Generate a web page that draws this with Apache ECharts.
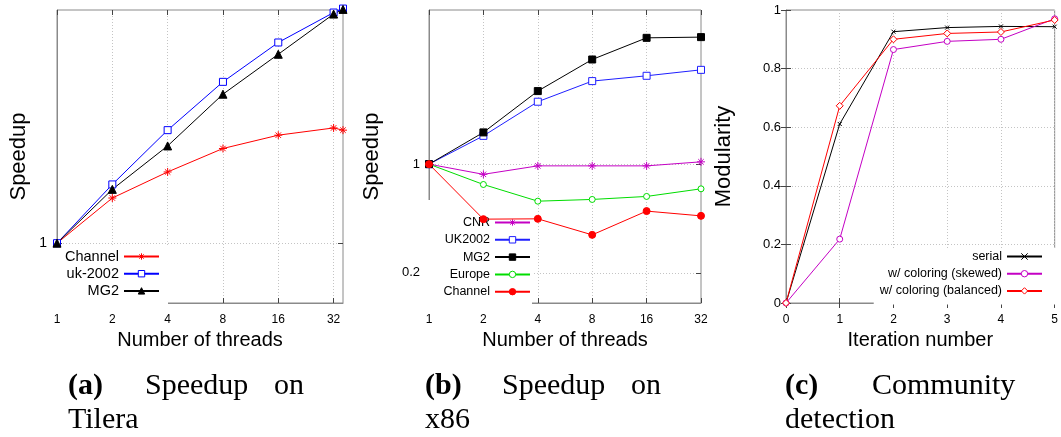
<!DOCTYPE html>
<html>
<head>
<meta charset="utf-8">
<script src="https://cdn.jsdelivr.net/npm/echarts@6/dist/echarts.min.js"></script>
<style>
  html, body { margin: 0; padding: 0; background: #fff; }
  #chart { width: 1061px; height: 437px; }
</style>
</head>
<body>
<div id="chart"></div>
<script>
// (a) speedup on Tilera
const threadsTilera = [1, 2, 4, 8, 16, 32, 36];
const tileraChannel = [1, 1.96, 2.89, 4.10, 5.00, 5.57, 5.39];
const tileraUk2002  = [1, 2.40, 5.39, 11.07, 19.9, 31.1, 33.0];
const tileraMG2     = [1, 2.23, 4.26, 9.21, 16.7, 30.4, 32.6];

// (b) speedup on x86
const threadsX86 = [1, 2, 4, 8, 16, 32];
const x86CNR     = [1, 0.86, 0.975, 0.975, 0.975, 1.035];
const x86UK2002  = [1, 1.52, 2.52, 3.42, 3.70, 4.04];
const x86MG2     = [1, 1.60, 2.95, 4.71, 6.49, 6.56];
const x86Europe  = [1, 0.74, 0.578, 0.593, 0.62, 0.694];
const x86Channel = [1, 0.443, 0.445, 0.351, 0.499, 0.465];

// (c) community detection
const iterations  = [0, 1, 2, 3, 4, 5];
const modSerial   = [0, 0.611, 0.926, 0.940, 0.944, 0.943];
const modSkewed   = [0, 0.218, 0.865, 0.893, 0.900, 0.970];
const modBalanced = [0, 0.673, 0.900, 0.920, 0.925, 0.966];

// tick labels
const threadTicks = [1, 2, 4, 8, 16, 32];
const speedupTicksTilera = [1];
const speedupTicksX86 = [0.2, 1];

const SANS = '"Liberation Sans", Arial, sans-serif';
const SERIF = '"Liberation Serif", "Times New Roman", serif';
const FRAME = '#8a8a8a';
const GRID = '#c4c4c4';
const TICK = '#444';

const ASTERISK = 'path://M5 0V10M0 5H10M1.6 1.6L8.4 8.4M8.4 1.6L1.6 8.4';
const CROSS = 'path://M0 0L10 10M10 0L0 10';

const pairs = (xs, ys) => xs.map((x, i) => [x, ys[i]]);

function tickCfg(custom) {
  const t = { show: true, inside: true, length: 5, lineStyle: { color: TICK } };
  if (custom) t.customValues = custom;
  return t;
}

function xAxisCfg(grid, extra) {
  return Object.assign({
    gridIndex: grid,
    axisLine: { show: true, lineStyle: { color: FRAME, width: 1 } },
    axisTick: tickCfg(),
    axisLabel: { color: '#000', fontSize: 12, fontFamily: SANS, margin: 11 },
    splitLine: { show: true, lineStyle: { color: GRID, type: [1, 2], width: 1 } },
    nameLocation: 'middle',
    nameGap: 24,
    nameTextStyle: { color: '#000', fontSize: 20, fontFamily: SANS }
  }, extra);
}
function yAxisCfg(grid, extra) {
  return Object.assign({
    gridIndex: grid,
    axisLine: { show: true, lineStyle: { color: FRAME, width: 1 } },
    axisTick: tickCfg(),
    axisLabel: { color: '#000', fontSize: 13, fontFamily: SANS, margin: 9 },
    splitLine: { show: true, lineStyle: { color: GRID, type: [1, 2], width: 1 } },
    nameLocation: 'middle',
    nameRotate: 90,
    nameTextStyle: { color: '#000', fontSize: 22, fontFamily: SANS }
  }, extra);
}
// mirrored tick marks on the top and right borders
function mirrorAxis(grid, position, scale, custom) {
  return Object.assign({
    gridIndex: grid,
    position: position,
    axisLine: { show: false },
    axisTick: tickCfg(custom),
    axisLabel: { show: false },
    splitLine: { show: false }
  }, scale);
}

function lineSeries(id, grid, data, color, symbol, size, hollow) {
  return {
    id: id,
    name: id,
    type: 'line',
    xAxisIndex: grid,
    yAxisIndex: grid,
    data: data,
    clip: false,
    symbol: symbol,
    symbolSize: size,
    showAllSymbol: true,
    z: 3,
    lineStyle: { color: color, width: 1 },
    itemStyle: { color: hollow ? '#fff' : color, borderColor: color, borderWidth: 1 },
    emphasis: { disabled: true }
  };
}

const labelOf = {
  'a-channel': 'Channel', 'a-uk': 'uk-2002', 'a-mg2': 'MG2',
  'b-cnr': 'CNR', 'b-uk': 'UK2002', 'b-mg2': 'MG2', 'b-europe': 'Europe', 'b-channel': 'Channel',
  'c-serial': 'serial', 'c-skewed': 'w/ coloring (skewed)', 'c-balanced': 'w/ coloring (balanced)'
};

function legendCfg(ids, box, fontSize, gap) {
  return Object.assign({
    data: ids,
    orient: 'vertical',
    align: 'right',
    itemWidth: 35,
    itemHeight: 8,
    itemGap: gap,
    selectedMode: false,
    backgroundColor: '#fff',
    z: 1,
    formatter: (n) => labelOf[n],
    textStyle: { color: '#000', fontSize: fontSize, fontFamily: SANS },
    itemStyle: { borderWidth: 1 }
  }, box);
}

const scaleA = { type: 'log', logBase: 2, min: 1, max: 36 };
const scaleB = { type: 'log', logBase: 2, min: 1, max: 32 };
const scaleC = { type: 'value', min: 0, max: 5, interval: 1 };
const scaleAy = { type: 'log', logBase: 10, min: 0.41, max: 32.3 };
const scaleBy = { type: 'log', logBase: 10, min: 0.128, max: 9.8 };
const scaleCy = { type: 'value', min: 0, max: 1, interval: 0.2 };

const option = {
  animation: false,
  backgroundColor: '#fff',
  grid: [
    { left: 57, top: 10, width: 286, height: 293, show: true, borderColor: FRAME, borderWidth: 1, backgroundColor: 'transparent' },
    { left: 429, top: 10, width: 272, height: 293, show: true, borderColor: FRAME, borderWidth: 1, backgroundColor: 'transparent' },
    { left: 786, top: 10, width: 272, height: 293, show: true, borderColor: FRAME, borderWidth: 1, backgroundColor: 'transparent' }
  ],
  xAxis: [
    xAxisCfg(0, Object.assign({}, scaleA, {
      name: 'Number of threads',
      axisTick: tickCfg(threadTicks),
      axisLabel: { color: '#000', fontSize: 12, fontFamily: SANS, margin: 11, customValues: threadTicks, formatter: (v) => String(v) }
    })),
    xAxisCfg(1, Object.assign({}, scaleB, {
      name: 'Number of threads',
      axisTick: tickCfg(threadTicks),
      axisLabel: { color: '#000', fontSize: 12, fontFamily: SANS, margin: 11, customValues: threadTicks, formatter: (v) => String(v) }
    })),
    xAxisCfg(2, Object.assign({}, scaleC, { name: 'Iteration number' })),
    mirrorAxis(0, 'top', scaleA, threadTicks),
    mirrorAxis(1, 'top', scaleB, threadTicks),
    mirrorAxis(2, 'top', scaleC)
  ],
  yAxis: [
    yAxisCfg(0, Object.assign({}, scaleAy, {
      name: 'Speedup', nameGap: 27,
      axisTick: tickCfg(speedupTicksTilera),
      axisLabel: { color: '#000', fontSize: 14, fontFamily: SANS, margin: 10, customValues: speedupTicksTilera, formatter: (v) => String(v) }
    })),
    yAxisCfg(1, Object.assign({}, scaleBy, {
      name: 'Speedup', nameGap: 46,
      axisTick: tickCfg(speedupTicksX86),
      axisLabel: { color: '#000', fontSize: 13, fontFamily: SANS, margin: 9, customValues: speedupTicksX86, formatter: (v) => String(v) }
    })),
    yAxisCfg(2, Object.assign({}, scaleCy, {
      name: 'Modularity', nameGap: 51,
      axisLabel: { color: '#000', fontSize: 13, fontFamily: SANS, margin: 5 }
    })),
    mirrorAxis(0, 'right', scaleAy, speedupTicksTilera),
    mirrorAxis(1, 'right', scaleBy, speedupTicksX86),
    mirrorAxis(2, 'right', scaleCy)
  ],
  legend: [
    legendCfg(['a-channel', 'a-uk', 'a-mg2'],
      { right: 893, top: 247, padding: [2, 8, 6, 9] }, 14.5, 2.2),
    legendCfg(['b-cnr', 'b-uk', 'b-mg2', 'b-europe', 'b-channel'],
      { right: 529, top: 200, padding: [16, 1, 7, 16] }, 12.5, 4.3),
    legendCfg(['c-serial', 'c-skewed', 'c-balanced'],
      { right: 3, top: 248, padding: [2, 15, 7, 6] }, 12.5, 4.2)
  ],
  series: [
    lineSeries('a-channel', 0, pairs(threadsTilera, tileraChannel), '#ff0000', ASTERISK, 8),
    lineSeries('a-uk', 0, pairs(threadsTilera, tileraUk2002), '#0000ff', 'rect', 7, true),
    lineSeries('a-mg2', 0, pairs(threadsTilera, tileraMG2), '#000000', 'triangle', 8),

    lineSeries('b-cnr', 1, pairs(threadsX86, x86CNR), '#c400c4', ASTERISK, 8),
    lineSeries('b-uk', 1, pairs(threadsX86, x86UK2002), '#1f1fff', 'rect', 7, true),
    lineSeries('b-mg2', 1, pairs(threadsX86, x86MG2), '#000000', 'rect', 7),
    lineSeries('b-europe', 1, pairs(threadsX86, x86Europe), '#00dd00', 'circle', 6, true),
    lineSeries('b-channel', 1, pairs(threadsX86, x86Channel), '#ff0000', 'circle', 7),

    lineSeries('c-serial', 2, pairs(iterations, modSerial), '#000000', CROSS, 4),
    lineSeries('c-skewed', 2, pairs(iterations, modSkewed), '#c400c4', 'circle', 6, true),
    lineSeries('c-balanced', 2, pairs(iterations, modBalanced), '#ff0000', 'diamond', 7, true)
  ],
  graphic: [
    { type: 'text', x: 68, y: 386, style: { text: '(a)', font: 'bold 30px ' + SERIF, fill: '#000', verticalAlign: 'middle' } },
    { type: 'text', x: 145, y: 386, style: { text: 'Speedup', font: '30px ' + SERIF, fill: '#000', verticalAlign: 'middle' } },
    { type: 'text', x: 274, y: 386, style: { text: 'on', font: '30px ' + SERIF, fill: '#000', verticalAlign: 'middle' } },
    { type: 'text', x: 68, y: 420, style: { text: 'Tilera', font: '30px ' + SERIF, fill: '#000', verticalAlign: 'middle' } },

    { type: 'text', x: 425, y: 386, style: { text: '(b)', font: 'bold 30px ' + SERIF, fill: '#000', verticalAlign: 'middle' } },
    { type: 'text', x: 502, y: 386, style: { text: 'Speedup', font: '30px ' + SERIF, fill: '#000', verticalAlign: 'middle' } },
    { type: 'text', x: 631, y: 386, style: { text: 'on', font: '30px ' + SERIF, fill: '#000', verticalAlign: 'middle' } },
    { type: 'text', x: 425, y: 420, style: { text: 'x86', font: '30px ' + SERIF, fill: '#000', verticalAlign: 'middle' } },

    { type: 'text', x: 785, y: 386, style: { text: '(c)', font: 'bold 30px ' + SERIF, fill: '#000', verticalAlign: 'middle' } },
    { type: 'text', x: 872, y: 386, style: { text: 'Community', font: '30px ' + SERIF, fill: '#000', verticalAlign: 'middle' } },
    { type: 'text', x: 785, y: 420, style: { text: 'detection', font: '30px ' + SERIF, fill: '#000', verticalAlign: 'middle' } }
  ]
};

const chart = echarts.init(document.getElementById('chart'), null, { renderer: 'canvas' });
chart.setOption(option);
</script>
</body>
</html>
